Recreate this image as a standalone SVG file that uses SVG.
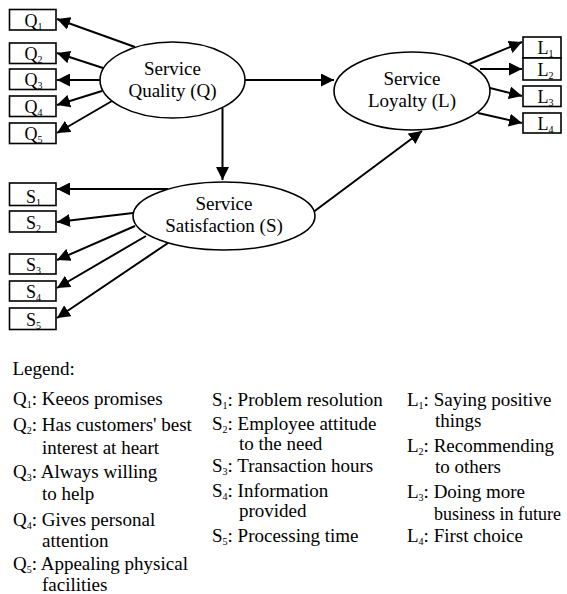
<svg xmlns="http://www.w3.org/2000/svg" width="567" height="594" viewBox="0 0 567 594">
<style>
text{font-family:"Liberation Serif","Times New Roman",serif;fill:#000}
.box{fill:#fff;stroke:#000;stroke-width:1.6}
.ell{fill:#fff;stroke:#000;stroke-width:1.6}
.lbl{font-size:18px}
.ett{font-size:19px;text-anchor:middle}
.leg{font-size:19px}
.sub{font-size:10px}
.con line{stroke:#000;stroke-width:2;marker-end:url(#ah)}
</style>
<defs>
<marker id="ah" markerUnits="userSpaceOnUse" markerWidth="13" markerHeight="13" refX="13" refY="6.5" orient="auto">
<path d="M0,0 L13,6.5 L0,13 z" fill="#000"/>
</marker>
</defs>
<g id="connectors" class="con">
<line x1="135" y1="47" x2="57" y2="19"/>
<line x1="103" y1="68" x2="57" y2="53"/>
<line x1="100" y1="80" x2="57" y2="80"/>
<line x1="102" y1="91" x2="57" y2="105"/>
<line x1="112" y1="101" x2="57" y2="133"/>
<line x1="245" y1="80" x2="334" y2="80"/>
<line x1="222.5" y1="108" x2="222.5" y2="180"/>
<line x1="312" y1="213" x2="422" y2="131"/>
<line x1="469" y1="64" x2="522" y2="42"/>
<line x1="480" y1="69" x2="522" y2="69"/>
<line x1="482" y1="86" x2="522" y2="96"/>
<line x1="478" y1="113" x2="522" y2="123"/>
<line x1="168" y1="189" x2="57" y2="189"/>
<line x1="133" y1="213" x2="57" y2="222"/>
<line x1="135" y1="226" x2="57" y2="260"/>
<line x1="146" y1="236" x2="57" y2="288"/>
<line x1="168" y1="243" x2="57" y2="318"/>
</g>
<g id="Q">
<ellipse class="ell" cx="172.5" cy="80" rx="72.5" ry="38"/>
<text class="ett" x="172.5" y="75">Service</text>
<text class="ett" x="172.5" y="97">Quality (Q)</text>
</g>
<g id="L">
<ellipse class="ell" cx="412" cy="91" rx="78" ry="39"/>
<text class="ett" x="412" y="85">Service</text>
<text class="ett" x="412" y="107">Loyalty (L)</text>
</g>
<g id="S">
<ellipse class="ell" cx="224" cy="216" rx="91" ry="34"/>
<text class="ett" x="224" y="210">Service</text>
<text class="ett" x="224" y="232">Satisfaction (S)</text>
</g>
<g id="Q1"><rect class="box" x="9.5" y="9.5" width="46.5" height="20.5"/><text class="lbl" x="24.5" y="26.5">Q<tspan class="sub" dy="3">1</tspan></text></g>
<g id="Q2"><rect class="box" x="9.5" y="43" width="46.5" height="20.5"/><text class="lbl" x="24.5" y="60">Q<tspan class="sub" dy="3">2</tspan></text></g>
<g id="Q3"><rect class="box" x="9.5" y="69" width="46.5" height="20.5"/><text class="lbl" x="24.5" y="86">Q<tspan class="sub" dy="3">3</tspan></text></g>
<g id="Q4"><rect class="box" x="9.5" y="96" width="46.5" height="20.5"/><text class="lbl" x="24.5" y="113">Q<tspan class="sub" dy="3">4</tspan></text></g>
<g id="Q5"><rect class="box" x="9.5" y="123" width="46.5" height="20.5"/><text class="lbl" x="24.5" y="140">Q<tspan class="sub" dy="3">5</tspan></text></g>
<g id="S1"><rect class="box" x="9.5" y="183" width="46.5" height="22.5"/><text class="lbl" x="26" y="202.5">S<tspan class="sub" dy="3">1</tspan></text></g>
<g id="S2"><rect class="box" x="9.5" y="211" width="46.5" height="21"/><text class="lbl" x="26" y="229">S<tspan class="sub" dy="3">2</tspan></text></g>
<g id="S3"><rect class="box" x="9.5" y="254" width="46.5" height="20"/><text class="lbl" x="26" y="271">S<tspan class="sub" dy="3">3</tspan></text></g>
<g id="S4"><rect class="box" x="9.5" y="281" width="46.5" height="20"/><text class="lbl" x="26" y="298">S<tspan class="sub" dy="3">4</tspan></text></g>
<g id="S5"><rect class="box" x="9.5" y="308" width="46.5" height="21.5"/><text class="lbl" x="26" y="326">S<tspan class="sub" dy="3">5</tspan></text></g>
<g id="L1"><rect class="box" x="523" y="37" width="38" height="21"/><text class="lbl" x="537.5" y="54">L<tspan class="sub" dy="3">1</tspan></text></g>
<g id="L2"><rect class="box" x="523" y="58" width="38" height="22"/><text class="lbl" x="537.5" y="76">L<tspan class="sub" dy="3">2</tspan></text></g>
<g id="L3"><rect class="box" x="523" y="86" width="38" height="20.5"/><text class="lbl" x="537.5" y="102.5">L<tspan class="sub" dy="3">3</tspan></text></g>
<g id="L4"><rect class="box" x="523" y="113" width="38" height="20"/><text class="lbl" x="537.5" y="129.5">L<tspan class="sub" dy="3">4</tspan></text></g>
<g id="legend" class="leg">
<text x="12.5" y="375">Legend:</text>
<text x="13" y="405">Q<tspan class="sub" dy="3">1</tspan><tspan dy="-3">: Keeos promises</tspan></text>
<text x="13" y="431">Q<tspan class="sub" dy="3">2</tspan><tspan dy="-3">: Has customers' best</tspan></text>
<text x="42" y="454">interest at heart</text>
<text x="13" y="478">Q<tspan class="sub" dy="3">3</tspan><tspan dy="-3">: Always willing</tspan></text>
<text x="42" y="500">to help</text>
<text x="13" y="526">Q<tspan class="sub" dy="3">4</tspan><tspan dy="-3">: Gives personal</tspan></text>
<text x="42" y="547">attention</text>
<text x="13" y="570">Q<tspan class="sub" dy="3">5</tspan><tspan dy="-3">: Appealing physical</tspan></text>
<text x="42" y="591">facilities</text>
<text x="212" y="406">S<tspan class="sub" dy="3">1</tspan><tspan dy="-3">: Problem resolution</tspan></text>
<text x="212" y="430">S<tspan class="sub" dy="3">2</tspan><tspan dy="-3">: Employee attitude</tspan></text>
<text x="239" y="450">to the need</text>
<text x="212" y="472">S<tspan class="sub" dy="3">3</tspan><tspan dy="-3">: Transaction hours</tspan></text>
<text x="212" y="497">S<tspan class="sub" dy="3">4</tspan><tspan dy="-3">: Information</tspan></text>
<text x="239" y="517">provided</text>
<text x="212" y="542">S<tspan class="sub" dy="3">5</tspan><tspan dy="-3">: Processing time</tspan></text>
<text x="407" y="406">L<tspan class="sub" dy="3">1</tspan><tspan dy="-3">: Saying positive</tspan></text>
<text x="435" y="427">things</text>
<text x="407" y="452">L<tspan class="sub" dy="3">2</tspan><tspan dy="-3">: Recommending</tspan></text>
<text x="435" y="473">to others</text>
<text x="407" y="498">L<tspan class="sub" dy="3">3</tspan><tspan dy="-3">: Doing more</tspan></text>
<text x="434" y="520" font-size="18">business in future</text>
<text x="407" y="542">L<tspan class="sub" dy="3">4</tspan><tspan dy="-3">: First choice</tspan></text>
</g>
</svg>
